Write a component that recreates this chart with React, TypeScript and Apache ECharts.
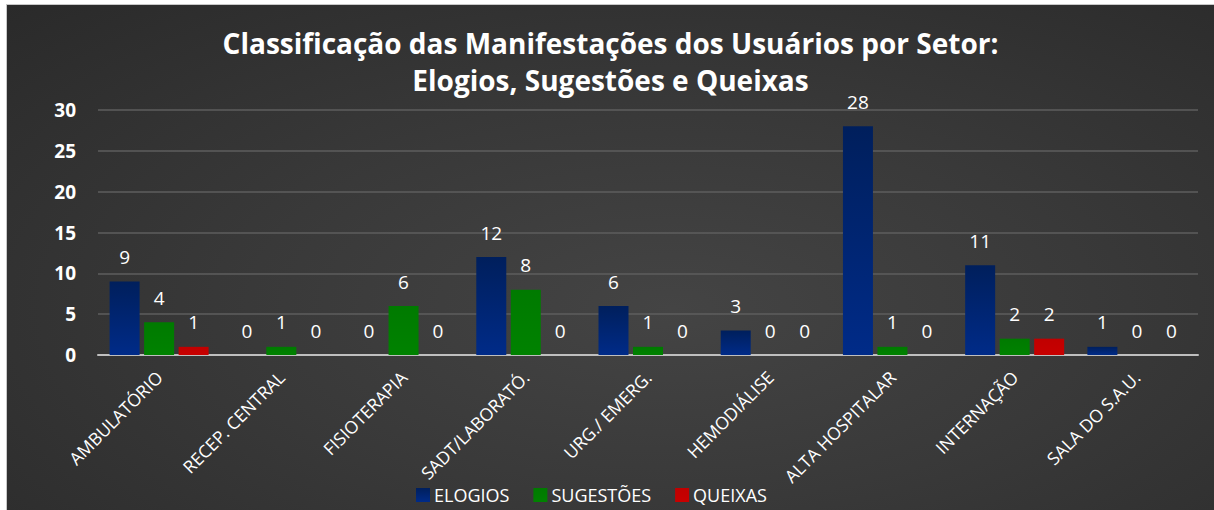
import React, { useEffect, useRef } from "react";
import * as echarts from "echarts";

const categories = [
  "AMBULATÓRIO",
  "RECEP. CENTRAL",
  "FISIOTERAPIA",
  "SADT/LABORATÓ.",
  "URG./ EMERG.",
  "HEMODIÁLISE",
  "ALTA HOSPITALAR",
  "INTERNAÇÃO",
  "SALA DO S.A.U.",
];
const elogios = [9, 0, 0, 12, 6, 3, 28, 11, 1];
const sugestoes = [4, 1, 6, 8, 1, 0, 1, 2, 0];
const queixas = [1, 0, 0, 0, 0, 0, 0, 2, 0];
const titleLines = [
  "Classificação das Manifestações dos Usuários por Setor:",
  "Elogios, Sugestões e Queixas",
];

const FONT = "'Open Sans', 'Noto Sans', sans-serif";

function grad(top: string, bottom: string) {
  return new echarts.graphic.LinearGradient(0, 0, 0, 1, [
    { offset: 0, color: top },
    { offset: 1, color: bottom },
  ]);
}

export default function App() {
  const ref = useRef<HTMLDivElement>(null);
  useEffect(() => {
    document.body.style.margin = "0";
    const chart = echarts.init(ref.current!, null, { renderer: "svg" });
    const label = {
      show: true,
      position: "top" as const,
      distance: 15,
      color: "#ffffff",
      fontSize: 19,
      fontFamily: FONT,
    };
    const titleStyle = {
      color: "#ffffff",
      fontSize: 28,
      fontWeight: "bold" as const,
      fontFamily: FONT,
      lineHeight: 28,
    };
    chart.setOption({
      animation: false,
      backgroundColor: "transparent",
      title: titleLines.map((t, i) => ({
        text: t,
        left: "center",
        top: 24 + i * 37,
        padding: 0,
        textStyle: titleStyle,
      })),
      legend: {
        bottom: 1,
        left: 404,
        itemWidth: 14,
        itemHeight: 14,
        itemGap: 24,
        icon: "rect",
        textStyle: { color: "#ffffff", fontSize: 18, fontFamily: FONT, padding: [0, 0, 0, -1] },
        data: ["ELOGIOS", "SUGESTÕES", "QUEIXAS"],
      },
      grid: { left: 91, right: 16, top: 105, bottom: 155, containLabel: false },
      xAxis: {
        type: "category",
        data: categories,
        axisLine: { show: true, lineStyle: { color: "#bfbfbf", width: 2 } },
        axisTick: { show: false },
        axisLabel: {
          rotate: 45,
          color: "#ffffff",
          fontSize: 17.5,
          fontFamily: FONT,
          margin: 19,
          interval: 0,
        },
      },
      yAxis: {
        type: "value",
        min: 0,
        max: 30,
        interval: 5,
        axisLine: { show: false },
        axisTick: { show: false },
        splitLine: { lineStyle: { color: "#5e5e5e", width: 1.5 } },
        axisLabel: {
          color: "#ffffff",
          fontSize: 19,
          fontWeight: "bold",
          fontFamily: FONT,
          margin: 22,
        },
      },
      series: [
        {
          name: "ELOGIOS",
          type: "bar",
          data: elogios,
          barWidth: 30,
          barGap: "15%",
          itemStyle: { color: grad("#001f5c", "#002b88") },
          label,
        },
        {
          name: "SUGESTÕES",
          type: "bar",
          data: sugestoes,
          barWidth: 30,
          barGap: "15%",
          itemStyle: { color: grad("#007a00", "#008200") },
          label,
        },
        {
          name: "QUEIXAS",
          type: "bar",
          data: queixas,
          barWidth: 30,
          barGap: "15%",
          itemStyle: { color: grad("#c00000", "#c80000") },
          label,
        },
      ],
    });
    return () => chart.dispose();
  }, []);
  return (
    <div
      style={{
        position: "absolute",
        left: 0,
        top: 0,
        width: 1214,
        height: 510,
        background: "#ffffff",
      }}
    >
      <div
        style={{
          position: "absolute",
          left: 6,
          top: 4,
          width: 1208,
          height: 506,
          borderTop: "1px solid #c8c8c8",
          borderLeft: "1px solid #c8c8c8",
          background:
            "radial-gradient(ellipse at 55% 60%, #444444 0%, #393939 45%, #2a2a2a 100%)",
        }}
      >
        <div ref={ref} style={{ width: 1207, height: 505 }} />
      </div>
    </div>
  );
}
